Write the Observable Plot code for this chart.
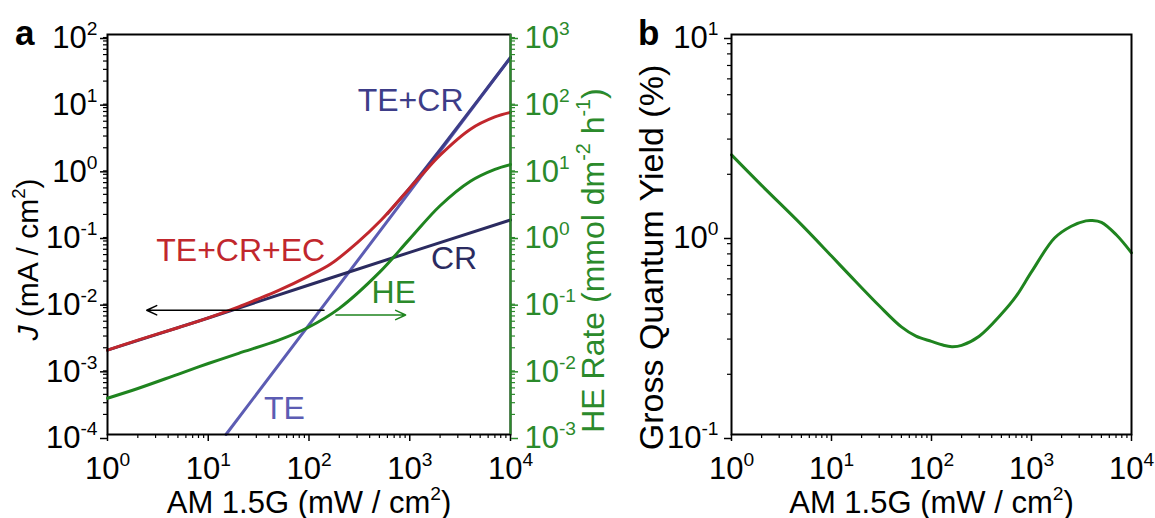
<!DOCTYPE html>
<html>
<head>
<meta charset="utf-8">
<script src="https://cdn.jsdelivr.net/npm/d3@7"></script>
<script src="https://cdn.jsdelivr.net/npm/@observablehq/plot@0.6"></script>
<style>
  html, body { margin: 0; padding: 0; background: #fff; }
  #wrap { position: relative; width: 1155px; height: 518px; overflow: hidden;
          font-family: "Liberation Sans", Arial, Helvetica, sans-serif; }
  #wrap > svg { position: absolute; top: 0; }
  .letter { position: absolute; font-weight: bold; font-size: 35px; line-height: 1; }
</style>
</head>
<body>
<div id="wrap"></div>
<script>
// ---------------- data ----------------
// Panel a: current density J (mA/cm^2) vs AM 1.5G irradiance (mW/cm^2)
const irrTE = [15, 100, 1000, 10000];
const jTE = [1.0e-4, 4.4e-3, 0.44, 45];

const irrCR = [1, 10, 100, 1000, 10000];
const jCR = [1.84e-3, 5.6e-3, 0.0175, 0.054, 0.165];

const irrTECR = [600, 1000, 2000, 5000, 10000];
const jTECR = [0.205, 0.50, 1.88, 11.4, 45.2];

const irrTotal = [1, 2, 5, 10, 20, 30, 50, 100, 164, 300, 515, 1000, 1333, 2000, 4000, 7000, 10000];
const jTotal = [1.84e-3, 2.6e-3, 4.0e-3, 5.6e-3, 8.2e-3, 0.0105, 0.0145, 0.024, 0.036, 0.075, 0.162, 0.50, 0.80, 1.55, 3.8, 5.8, 6.8];

// HE rate (mmol dm^-2 h^-1), right axis
const irrHE = [1, 2, 5, 10, 20, 50, 100, 200, 500, 1000, 2000, 4000, 7000, 10000];
const rateHE = [3.5e-3, 4.9e-3, 8.0e-3, 0.0116, 0.0165, 0.026, 0.041, 0.078, 0.27, 0.86, 2.7, 6.3, 9.5, 11.2];

// Panel b: gross quantum yield (%)
const irrGQY = [1, 2, 5, 10, 15, 30, 50, 70, 100, 130, 160, 200, 300, 500, 700, 1000, 1700, 2500, 3500, 4000, 5000, 7000, 10000];
const gqy = [2.5, 1.76, 1.12, 0.78, 0.63, 0.44, 0.345, 0.31, 0.292, 0.28, 0.275, 0.279, 0.31, 0.40, 0.49, 0.65, 0.96, 1.1, 1.17, 1.175, 1.15, 1.0, 0.81];

// tick values
const xTicks = [1, 10, 100, 1000, 10000];
const yTicksJ = [1e-4, 1e-3, 1e-2, 1e-1, 1, 10, 100];
const yTicksHE = [1e-3, 1e-2, 1e-1, 1, 10, 100, 1000];
const yTicksGQY = [0.1, 1, 10];

// annotations (data units)
const labelsA = [
  {label: "TE+CR", x: 1020, y: 10.2, color: "#3d3d88"},
  {label: "TE+CR+EC", x: 21, y: 0.057, color: "#c1272d"},
  {label: "CR", x: 2750, y: 0.044, color: "#2b2b60"},
  {label: "TE", x: 57, y: 2.45e-4, color: "#5c5cb3"}
];
const labelsHE = [{label: "HE", x: 695, y: 0.135}];
const arrowJ = [{from: 141, to: 2.45, level: 7.3e-3}];
const arrowHE = [{from: 185, to: 910, level: 0.062}];

// ---------------- styling ----------------
const FONT = '"Liberation Sans", Arial, Helvetica, sans-serif';
const RED = "#c1272d", NAVY = "#2b2b60", NAVY2 = "#3d3d88", TEBLUE = "#5c5cb3";
const GREEN = "#1f841f", GREEN_TXT = "#2b8a2b";
const TICK_FS = 31, XLABEL_FS = 31, ANN_FS = 32;
const H = 518, MT = 34, MB = 84;

const zip = (xs, ys) => xs.map((x, i) => ({x, y: ys[i]}));
const minors = (majors) => majors.slice(0, -1).flatMap(d => [2,3,4,5,6,7,8,9].map(m => m * d));
const pow10 = d => `10^{${Math.round(Math.log10(d))}}`;
const noText = () => "";

function richify(root) {
  root.querySelectorAll("text").forEach(t => {
    const s = t.textContent;
    if (!/\^\{|_i\{/.test(s)) return;
    const fs = parseFloat(getComputedStyle(t).fontSize) || 16;
    const parts = [];
    const re = /\^\{([^}]*)\}|_i\{([^}]*)\}/g;
    let last = 0, m;
    while ((m = re.exec(s))) {
      if (m.index > last) parts.push({t: s.slice(last, m.index)});
      if (m[1] !== undefined) parts.push({t: m[1], sup: true});
      else parts.push({t: m[2], it: true});
      last = re.lastIndex;
    }
    if (last < s.length) parts.push({t: s.slice(last)});
    while (t.firstChild) t.removeChild(t.firstChild);
    const shift = 0.42 * fs;
    let raised = false;
    for (const p of parts) {
      const ts = document.createElementNS("http://www.w3.org/2000/svg", "tspan");
      ts.textContent = p.t;
      if (p.sup) {
        ts.setAttribute("font-size", (0.62 * fs).toFixed(1));
        if (!raised) { ts.setAttribute("dy", (-shift).toFixed(1)); raised = true; }
      } else {
        if (raised) { ts.setAttribute("dy", shift.toFixed(1)); raised = false; }
        if (p.it) ts.setAttribute("font-style", "italic");
      }
      t.appendChild(ts);
    }
  });
}

// shift an axis title along the page (the reference centres the y titles lower than the frame centre)
function nudge(root, prefix, dx, dy) {
  root.querySelectorAll("text").forEach(t => {
    if (t.textContent.startsWith(prefix)) {
      const tr = t.getAttribute("transform") || "";
      t.setAttribute("transform", `translate(${dx},${dy}) ${tr}`);
    }
  });
}

const wrap = document.getElementById("wrap");
function place(svg, left) {
  svg.style.left = left + "px";
  wrap.appendChild(svg);
  richify(svg);
}

// ---------------- panel a (left axis J) ----------------
const WA = 620, MLA = 107, MRA = 110;
const xAxisMarks = () => [
  Plot.axisX({ticks: xTicks, tickFormat: pow10, tickSize: 7, tickPadding: 15, strokeWidth: 1.5, fontSize: TICK_FS, label: null}),
  Plot.axisX({ticks: minors(xTicks), tickFormat: noText, tickSize: 4, strokeWidth: 1.2, label: null}),
  Plot.axisX({ticks: [], tickSize: 0, fontSize: XLABEL_FS, label: "AM 1.5G (mW / cm^{2})", labelAnchor: "center", labelOffset: 78, labelArrow: "none"})
];

const plotA = Plot.plot({
  width: WA, height: H,
  marginLeft: MLA, marginRight: MRA, marginTop: MT, marginBottom: MB,
  style: {fontFamily: FONT, background: "transparent", color: "black", overflow: "visible"},
  x: {type: "log", domain: [1, 1e4]},
  y: {type: "log", domain: [1e-4, 1e2]},
  color: {type: "identity"},
  marks: [
    ...xAxisMarks(),
    Plot.axisY({ticks: yTicksJ, tickFormat: pow10, tickSize: 7, tickPadding: 3, dy: 4, strokeWidth: 1.5, fontSize: TICK_FS, label: null}),
    Plot.axisY({ticks: minors(yTicksJ), tickFormat: noText, tickSize: 4, strokeWidth: 1.2, label: null}),
    Plot.axisY({ticks: [], tickSize: 0, fontSize: 30, label: "_i{J} (mA / cm^{2})", labelAnchor: "center", labelOffset: 91, labelArrow: "none"}),
    Plot.line(zip(irrTE, jTE), {x: "x", y: "y", stroke: TEBLUE, strokeWidth: 3}),
    Plot.line(zip(irrCR, jCR), {x: "x", y: "y", stroke: NAVY, strokeWidth: 3}),
    Plot.line(zip(irrTECR, jTECR), {x: "x", y: "y", stroke: NAVY2, strokeWidth: 3, curve: "catmull-rom"}),
    Plot.line(zip(irrTotal, jTotal), {x: "x", y: "y", stroke: RED, strokeWidth: 3, curve: "catmull-rom"}),
    Plot.arrow(arrowJ, {x1: "from", x2: "to", y1: "level", y2: "level", stroke: "black", strokeWidth: 1.5, headLength: 11, headAngle: 50}),
    Plot.text(labelsA, {x: "x", y: "y", text: "label", fill: "color", fontSize: ANN_FS}),
    Plot.frame({stroke: "black", strokeWidth: 2})
  ]
});
place(plotA, 0);
nudge(plotA, "J", 0, 25);

// ---------------- panel a (right axis HE rate) ----------------
const plotA2 = Plot.plot({
  width: WA, height: H,
  marginLeft: MLA, marginRight: MRA, marginTop: MT, marginBottom: MB,
  style: {fontFamily: FONT, background: "transparent", color: GREEN_TXT, overflow: "visible"},
  x: {type: "log", domain: [1, 1e4], axis: null},
  y: {type: "log", domain: [1e-3, 1e3]},
  marks: [
    Plot.axisY({anchor: "right", ticks: yTicksHE, tickFormat: pow10, tickSize: 7, tickPadding: 7, dy: 4, strokeWidth: 1.5, fontSize: TICK_FS, label: null}),
    Plot.axisY({anchor: "right", ticks: minors(yTicksHE), tickFormat: noText, tickSize: 4, strokeWidth: 1.2, label: null}),
    Plot.axisY({anchor: "right", ticks: [], tickSize: 0, fontSize: 32, label: "HE Rate (mmol dm^{-2} h^{-1})", labelAnchor: "center", labelOffset: 93, labelArrow: "none"}),
    Plot.ruleX([1e4], {stroke: GREEN_TXT, strokeWidth: 2}),
    Plot.line(zip(irrHE, rateHE), {x: "x", y: "y", stroke: GREEN, strokeWidth: 3, curve: "catmull-rom"}),
    Plot.arrow(arrowHE, {x1: "from", x2: "to", y1: "level", y2: "level", stroke: GREEN, strokeWidth: 1.5, headLength: 11, headAngle: 50}),
    Plot.text(labelsHE, {x: "x", y: "y", text: "label", fill: GREEN_TXT, fontSize: ANN_FS})
  ]
});
place(plotA2, 0);
nudge(plotA2, "HE Rate", 0, 26);

// ---------------- panel b ----------------
const WB = 535, MLB = 111, MRB = 24;
const plotB = Plot.plot({
  width: WB, height: H,
  marginLeft: MLB, marginRight: MRB, marginTop: MT, marginBottom: MB,
  style: {fontFamily: FONT, background: "transparent", color: "black", overflow: "visible"},
  x: {type: "log", domain: [1, 1e4]},
  y: {type: "log", domain: [0.1, 10]},
  marks: [
    ...xAxisMarks(),
    Plot.axisY({ticks: yTicksGQY, tickFormat: pow10, tickSize: 7, tickPadding: 6, dy: 4, strokeWidth: 1.5, fontSize: TICK_FS, label: null}),
    Plot.axisY({ticks: minors(yTicksGQY), tickFormat: noText, tickSize: 4, strokeWidth: 1.2, label: null}),
    Plot.axisY({ticks: [], tickSize: 0, fontSize: 34, label: "Gross Quantum Yield (%)", labelAnchor: "center", labelOffset: 93, labelArrow: "none"}),
    Plot.line(zip(irrGQY, gqy), {x: "x", y: "y", stroke: GREEN, strokeWidth: 3, curve: "catmull-rom"}),
    Plot.frame({stroke: "black", strokeWidth: 2})
  ]
});
place(plotB, 620);
nudge(plotB, "Gross", 0, 23);

// panel letters
for (const [txt, left] of [["a", 15], ["b", 638]]) {
  const d = document.createElement("div");
  d.className = "letter";
  d.textContent = txt;
  d.style.left = left + "px";
  d.style.top = "15px";
  wrap.appendChild(d);
}
</script>
</body>
</html>
